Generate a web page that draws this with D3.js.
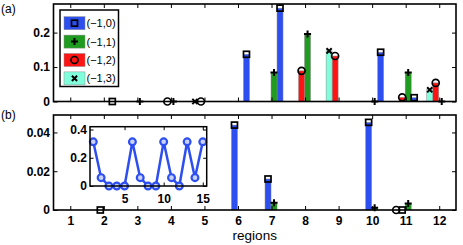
<!DOCTYPE html>
<html>
<head>
<meta charset="utf-8">
<script src="https://cdn.jsdelivr.net/npm/d3@7"></script>
<style>
body { margin: 0; background: #fff; }
text { font-family: "Liberation Sans", Arial, sans-serif; }
</style>
</head>
<body>
<div id="main"></div>
<script>
// ---- data ----
var regions = d3.range(1, 13);
var seriesNames = ["(\u22121,0)", "(\u22121,1)", "(\u22121,2)", "(\u22121,3)"];

// panel (a), null = no bar
var a_m10 = [null, 0, null, null, null, 0.137, 0.271, null, null, 0.143, 0.011, null];
var a_m11 = [null, null, 0, 0, null, null, 0.084, 0.196, null, 0, 0.084, 0];
var a_m12 = [null, null, null, 0, 0, null, null, 0.089, 0.132, null, 0.012, 0.054];
var a_m13 = [null, null, null, null, 0, null, null, null, 0.147, null, null, 0.034];

// panel (b)
var b_m10 = [null, 0, null, null, null, 0.0438, 0.016, null, null, 0.0452, 0, null];
var b_m11 = [null, null, null, null, null, null, 0.0038, null, null, 0.0012, 0.0034, null];
var b_m12 = [null, null, null, null, null, null, null, null, null, null, 0, null];
var b_m13 = [null, null, null, null, null, null, null, null, null, null, null, null];

// inset
var insetX = d3.range(1, 16);
var insetY = [0.313, 0.059, 0, 0, 0, 0.313, 0.059, 0, 0, 0.313, 0.059, 0, 0.313, 0.059, 0.313];

var aTicks = [0, 0.1, 0.2];
var bTicks = [0, 0.02, 0.04];
var insetYTicks = [0, 0.2, 0.4];
var insetXTicks = [5, 10, 15];

var colors = ["#2d4ff0", "#1f9c1f", "#ff1414", "#80ffdc"];
var markers = ["square", "plus", "circle", "cross"];

// ---- drawing ----
var W = 463, H = 245;
var svg = d3.select("#main").append("svg").attr("width", W).attr("height", H);

var x = d3.scaleLinear().domain([0.5, 12.5]).range([53.5, 456]);
var offset = d3.scaleBand().domain([0, 1, 2, 3]).range([-12.5, 11.5]);

var drawMarker = function(g, type, cx, cy) {
    if (type === "square") {
        g.append("rect").attr("x", cx - 3).attr("y", cy - 3).attr("width", 6).attr("height", 6)
         .attr("fill", "none").attr("stroke", "#000").attr("stroke-width", 1.7);
    } else if (type === "circle") {
        g.append("circle").attr("cx", cx).attr("cy", cy).attr("r", 3.5)
         .attr("fill", "none").attr("stroke", "#000").attr("stroke-width", 1.7);
    } else if (type === "plus") {
        g.append("path").attr("d", "M" + (cx - 3.5) + "," + cy + "h7M" + cx + "," + (cy - 3.5) + "v7")
         .attr("stroke", "#000").attr("stroke-width", 2);
    } else {
        g.append("path").attr("d", "M" + (cx - 2.6) + "," + (cy - 2.6) + "l5.2,5.2M" + (cx - 2.6) + "," + (cy + 2.6) + "l5.2,-5.2")
         .attr("stroke", "#000").attr("stroke-width", 2);
    }
};

var styleAxis = function(g) {
    g.select(".domain").remove();
    g.selectAll("text").attr("font-size", 12).attr("font-weight", "bold")
     .attr("font-family", "'Liberation Sans', Arial, sans-serif");
    g.selectAll("line").attr("stroke-width", 1);
};

var drawPanel = function(top, bottom, yMax, yTicks, fmt, series, order, showX) {
    var y = d3.scaleLinear().domain([0, yMax]).range([bottom, top]);
    var g = svg.append("g");

    // bars
    series.forEach(function(vals, si) {
        var pos = order[si];
        regions.forEach(function(r, i) {
            var v = vals[i];
            if (v === null) return;
            g.append("rect")
             .attr("x", x(r) + offset(pos))
             .attr("y", y(v))
             .attr("width", offset.bandwidth())
             .attr("height", y(0) - y(v))
             .attr("fill", colors[si])
             .attr("stroke", "#8a8a8a").attr("stroke-width", 0.5);
        });
    });

    // axes
    g.append("g").attr("transform", "translate(" + x.range()[0] + ",0)")
     .call(d3.axisLeft(y).tickValues(yTicks).tickSize(-4).tickPadding(3.5).tickFormat(fmt))
     .call(styleAxis);
    g.append("g").attr("transform", "translate(" + x.range()[1] + ",0)")
     .call(d3.axisRight(y).tickValues(yTicks).tickSize(-4).tickFormat(""))
     .call(styleAxis);
    g.append("g").attr("transform", "translate(0," + top + ")")
     .call(d3.axisTop(x).tickValues(regions).tickSize(-4).tickFormat(""))
     .call(styleAxis);
    g.append("g").attr("transform", "translate(0," + bottom + ")")
     .call(d3.axisBottom(x).tickValues(regions).tickSize(-4).tickPadding(6.5)
           .tickFormat(showX ? d3.format("d") : ""))
     .call(styleAxis);

    g.append("rect").attr("x", x.range()[0]).attr("y", top)
     .attr("width", x.range()[1] - x.range()[0]).attr("height", bottom - top)
     .attr("fill", "none").attr("stroke", "#000").attr("stroke-width", 1.6);

    // markers on top
    series.forEach(function(vals, si) {
        var pos = order[si];
        regions.forEach(function(r, i) {
            var v = vals[i];
            if (v === null) return;
            drawMarker(g, markers[si], x(r) + offset(pos) + offset.bandwidth() / 2, y(v));
        });
    });
    return g;
};

var fmtA = function(d) { return d === 0 ? "0" : d3.format(".1f")(d); };
var fmtB = function(d) { return d === 0 ? "0" : d3.format(".2f")(d); };

drawPanel(4, 101.5, 0.283, aTicks, fmtA, [a_m10, a_m11, a_m12, a_m13], [3, 2, 1, 0], false);
drawPanel(115, 210, 0.049, bTicks, fmtB, [b_m10, b_m11, b_m12, b_m13], [1, 2, 0, 3], true);

// legend
var leg = svg.append("g");
leg.append("rect").attr("x", 60).attr("y", 10).attr("width", 58.5).attr("height", 76.5)
   .attr("fill", "#fff").attr("stroke", "#000").attr("stroke-width", 1.5);
seriesNames.forEach(function(name, i) {
    var yy = 16.7 + i * 18.4;
    leg.append("rect").attr("x", 64).attr("y", yy).attr("width", 21).attr("height", 13)
       .attr("fill", colors[i]).attr("stroke", "#8a8a8a").attr("stroke-width", 0.5);
    drawMarker(leg, markers[i], 74.5, yy + 6.5);
    leg.append("text").attr("x", 86.5).attr("y", yy + 10.5).attr("font-size", 11).text(name);
});

// inset
var ix = d3.scaleLinear().domain([0.58, 15.5]).range([90, 206.7]);
var iy = d3.scaleLinear().domain([0, 0.42]).range([186, 126.7]);
var ins = svg.append("g");
ins.append("rect").attr("x", 90).attr("y", 126.7).attr("width", 116.7).attr("height", 59.3).attr("fill", "#fff");
ins.append("g").attr("transform", "translate(90,0)")
   .call(d3.axisLeft(iy).tickValues(insetYTicks).tickSize(-3.5).tickPadding(3)
         .tickFormat(function(d) { return d === 0 ? "0" : d3.format(".1f")(d); }))
   .call(styleAxis);
ins.append("g").attr("transform", "translate(206.7,0)")
   .call(d3.axisRight(iy).tickValues(insetYTicks).tickSize(-3.5).tickFormat(""))
   .call(styleAxis);
ins.append("g").attr("transform", "translate(0,186)")
   .call(d3.axisBottom(ix).tickValues(insetXTicks).tickSize(-3.5).tickPadding(8).tickFormat(d3.format("d")))
   .call(styleAxis);
ins.append("g").attr("transform", "translate(0,126.7)")
   .call(d3.axisTop(ix).tickValues(insetXTicks).tickSize(-3.5).tickFormat(""))
   .call(styleAxis);
var pts = insetX.map(function(d, i) { return [d, insetY[i]]; });
ins.append("path").datum(pts)
   .attr("d", d3.line().x(function(d) { return ix(d[0]); }).y(function(d) { return iy(d[1]); }))
   .attr("fill", "none").attr("stroke", "#2d4ff0").attr("stroke-width", 2.5);
ins.selectAll("circle.pt").data(pts).enter().append("circle").attr("class", "pt")
   .attr("cx", function(d) { return ix(d[0]); }).attr("cy", function(d) { return iy(d[1]); })
   .attr("r", 3.4).attr("fill", "#c9d2ff").attr("stroke", "#2d4ff0").attr("stroke-width", 2.2);
ins.append("rect").attr("x", 90).attr("y", 126.7).attr("width", 116.7).attr("height", 59.3)
   .attr("fill", "none").attr("stroke", "#000").attr("stroke-width", 1.5);

// labels
svg.append("text").attr("x", 1).attr("y", 13).attr("font-size", 12).text("(a)");
svg.append("text").attr("x", 1).attr("y", 119).attr("font-size", 12).text("(b)");
svg.append("text").attr("x", (x.range()[0] + x.range()[1]) / 2).attr("y", 240)
   .attr("text-anchor", "middle").attr("font-size", 13.5).text("regions");
</script>
</body>
</html>
